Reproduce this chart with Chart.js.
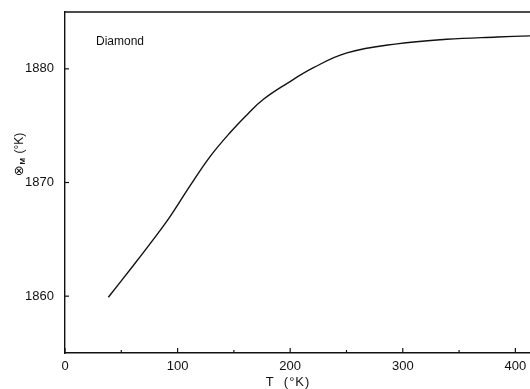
<!DOCTYPE html>
<html>
<head>
<meta charset="utf-8">
<script src="https://cdn.jsdelivr.net/npm/chart.js@4/dist/chart.umd.min.js"></script>
<style>
  body { margin: 0; background: #fff; }
  canvas { display: block; }
</style>
</head>
<body>
<canvas id="debyeChart" width="530" height="389"></canvas>
<script>
// values
const temps = [38.5, 60.7, 78.5, 93.3, 111, 129, 146.7, 163, 176, 197, 220.7, 250.4, 294.8, 339, 383.7, 413];
const theta = [1859.9, 1862.7, 1865.0, 1867.0, 1869.7, 1872.3, 1874.4, 1876.1, 1877.3, 1878.7, 1880.1, 1881.4, 1882.2, 1882.6, 1882.8, 1882.9];

const xTicks = [0, 100, 200, 300, 400];
const xMinorTicks = [50, 150, 250, 350];
const yTicks = [1860, 1870, 1880];

const ink = '#111';

// inward tick marks, frame top line and the text labels
const decorations = {
    id: 'decorations',
    afterDraw(chart) {
        const ctx = chart.ctx;
        const area = chart.chartArea;
        const xs = chart.scales.x;
        const ys = chart.scales.y;
        ctx.save();
        ctx.strokeStyle = ink;
        ctx.lineWidth = 1.3;

        // top frame line
        ctx.beginPath();
        ctx.moveTo(area.left, area.top);
        ctx.lineTo(chart.width, area.top);
        ctx.stroke();

        ctx.lineWidth = 1.2;
        xTicks.forEach(v => {
            const px = xs.getPixelForValue(v);
            ctx.beginPath();
            ctx.moveTo(px, area.bottom);
            ctx.lineTo(px, area.bottom - 5);
            ctx.stroke();
        });
        xMinorTicks.forEach(v => {
            const px = xs.getPixelForValue(v);
            ctx.beginPath();
            ctx.moveTo(px, area.bottom);
            ctx.lineTo(px, area.bottom - 3);
            ctx.stroke();
        });
        yTicks.forEach(v => {
            const py = ys.getPixelForValue(v);
            ctx.beginPath();
            ctx.moveTo(area.left, py);
            ctx.lineTo(area.left + 4, py);
            ctx.stroke();
        });

        ctx.fillStyle = ink;

        // sample label
        ctx.font = '12px "Liberation Sans", Arial, sans-serif';
        ctx.textAlign = 'left';
        ctx.textBaseline = 'middle';
        ctx.fillText('Diamond', 96, 42);

        // x axis title
        ctx.font = '13px "Liberation Sans", Arial, sans-serif';
        ctx.textAlign = 'center';
        ctx.letterSpacing = '1px';
        ctx.fillText('T  (°K)', 288, 382);
        ctx.letterSpacing = '0px';

        // y axis title, rotated, with subscript M
        ctx.translate(20, 154);
        ctx.rotate(-Math.PI / 2);
        ctx.textAlign = 'left';
        const parts = [
            { t: '⊗', f: '13px "DejaVu Sans", sans-serif', dy: 0 },
            { t: 'M', f: 'bold 8px "Liberation Sans", Arial, sans-serif', dy: 3 },
            { t: ' (°K)', f: '12px "Liberation Sans", Arial, sans-serif', dy: 0 }
        ];
        let total = 0;
        parts.forEach(p => { ctx.font = p.f; p.w = ctx.measureText(p.t).width + 1; total += p.w; });
        let cx = -total / 2;
        parts.forEach(p => {
            ctx.font = p.f;
            ctx.fillText(p.t, cx, p.dy);
            cx += p.w;
        });
        ctx.restore();
    }
};

const ctx = document.getElementById('debyeChart').getContext('2d');
new Chart(ctx, {
    type: 'line',
    data: {
        datasets: [{
            data: temps.map((t, i) => ({ x: t, y: theta[i] })),
            borderColor: ink,
            borderWidth: 1.4,
            pointRadius: 0,
            fill: false,
            tension: 0.4
        }]
    },
    options: {
        responsive: false,
        animation: false,
        layout: { padding: { top: 12, right: 0, left: 0, bottom: 0 } },
        plugins: {
            legend: { display: false },
            tooltip: { enabled: false }
        },
        scales: {
            x: {
                type: 'linear',
                min: 0,
                max: 413,
                afterBuildTicks: s => { s.ticks = xTicks.map(v => ({ value: v })); },
                afterFit: s => { s.height = 36; },
                grid: { display: false },
                border: { color: ink, width: 1.4 },
                ticks: {
                    color: ink,
                    padding: -2,
                    maxRotation: 0,
                    callback: v => String(v),
                    font: { family: '"Liberation Sans", Arial, sans-serif', size: 13 }
                }
            },
            y: {
                min: 1855,
                max: 1885,
                afterBuildTicks: s => { s.ticks = yTicks.map(v => ({ value: v })); },
                afterFit: s => { s.width = 65; },
                grid: { display: false },
                border: { color: ink, width: 1.4 },
                ticks: {
                    color: ink,
                    padding: 3,
                    callback: v => String(v),
                    font: { family: '"Liberation Sans", Arial, sans-serif', size: 13 }
                }
            }
        }
    },
    plugins: [decorations]
});
</script>
</body>
</html>
